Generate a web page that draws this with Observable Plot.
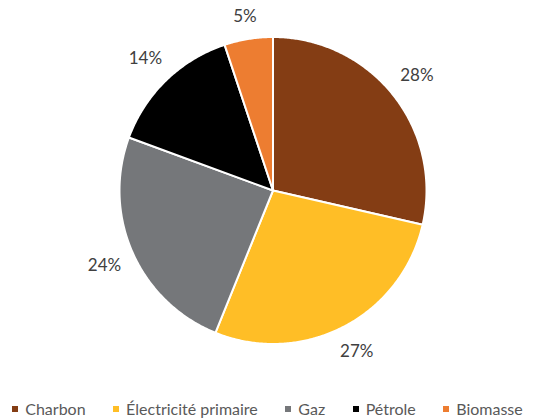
<!DOCTYPE html>
<html>
<head>
<meta charset="utf-8">
<script src="https://cdn.jsdelivr.net/npm/d3@7"></script>
<script src="https://cdn.jsdelivr.net/npm/@observablehq/plot@0.6"></script>
<style>
  body { margin: 0; background: #fff; font-family: Lato, "Open Sans", sans-serif; }
  #chart { width: 543px; height: 419px; position: relative; }
  #legend { position: absolute; left: 0; width: 543px; top: 399px; display: flex; justify-content: center; gap: 27.5px; font-size: 16px; color: #595959; padding-right: 8px; box-sizing: border-box; }
  .item { display: flex; align-items: center; gap: 7px; white-space: nowrap; }
  .sw { width: 6px; height: 6px; display: inline-block; }
</style>
</head>
<body>
<div id="chart"></div>
<script>
const categories = ["Charbon", "Électricité primaire", "Gaz", "Pétrole", "Biomasse"];
const values = [28, 27, 24, 14, 5];
const labels = ["28%", "27%", "24%", "14%", "5%"];
const colors = ["#843D14", "#FFBE26", "#75777A", "#000000", "#ED7D31"];

const W = 543, H = 392, cx = 272.5, cy = 190, R = 153.5;

const pie = d3.pie().sort(null).value(d => d.value);
const data = categories.map((name, i) => ({name, value: values[i], label: labels[i]}));
const arcs = pie(data);

// slice outlines in unit-radius coordinates
const pts = [];
for (const a of arcs) {
  pts.push({name: a.data.name, x: 0, y: 0});
  const n = Math.max(2, Math.ceil((a.endAngle - a.startAngle) / (Math.PI / 360)));
  for (let k = 0; k <= n; k++) {
    const t = a.startAngle + (a.endAngle - a.startAngle) * k / n;
    pts.push({name: a.data.name, x: Math.sin(t), y: Math.cos(t)});
  }
  pts.push({name: a.data.name, x: 0, y: 0});
}

const lab = arcs.map(a => {
  const m = (a.startAngle + a.endAngle) / 2;
  const s = Math.sin(m), c = Math.cos(m);
  const halfW = a.data.label.length * 5.5, halfH = 9;
  const d = (R + 12 + Math.abs(s) * halfW + Math.abs(c) * halfH) / R;
  return {label: a.data.label, x: s * d, y: c * d};
});

const plot = Plot.plot({
  width: W, height: H,
  margin: 0,
  x: {domain: [-cx / R, (W - cx) / R], axis: null},
  y: {domain: [-(H - cy) / R, cy / R], axis: null},
  color: {domain: categories, range: colors},
  marks: [
    Plot.line(pts, {x: "x", y: "y", z: "name", fill: "name", stroke: "white", strokeWidth: 2, strokeLinejoin: "round"}),
    Plot.text(lab, {x: "x", y: "y", text: "label", fontSize: 17, fill: "#404040", fontFamily: "Lato, 'Open Sans', sans-serif"})
  ]
});
const chart = document.getElementById("chart");
chart.appendChild(plot);

const legend = document.createElement("div");
legend.id = "legend";
categories.forEach((c, i) => {
  const it = document.createElement("span");
  it.className = "item";
  const sw = document.createElement("span");
  sw.className = "sw";
  sw.style.background = colors[i];
  const tx = document.createElement("span");
  tx.textContent = c;
  it.appendChild(sw); it.appendChild(tx);
  legend.appendChild(it);
});
chart.appendChild(legend);
</script>
</body>
</html>
